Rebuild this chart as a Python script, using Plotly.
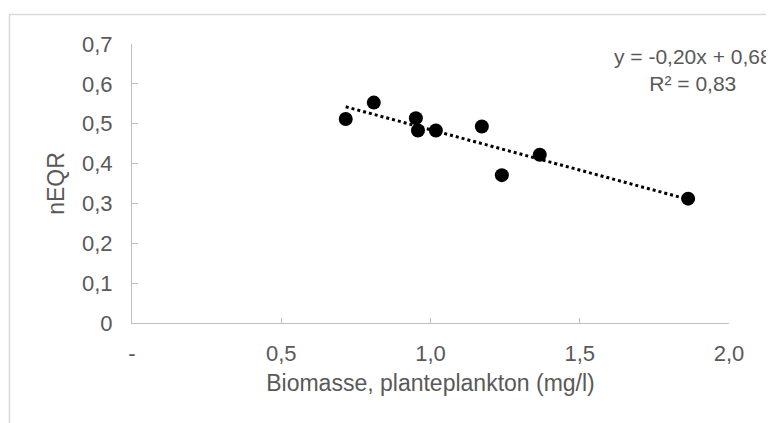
import numpy as np
import plotly.graph_objects as go

biomass = [0.716, 0.81, 0.951, 0.958, 1.018, 1.172, 1.366, 1.239, 1.863]
neqr = [0.512, 0.553, 0.514, 0.483, 0.483, 0.493, 0.422, 0.371, 0.312]

x_tickvals = [0, 0.5, 1.0, 1.5, 2.0]
x_ticktext = ["-", "0,5", "1,0", "1,5", "2,0"]
y_tickvals = [0, 0.1, 0.2, 0.3, 0.4, 0.5, 0.6, 0.7]
y_ticktext = ["0", "0,1", "0,2", "0,3", "0,4", "0,5", "0,6", "0,7"]

eq_text = "y = -0,20x + 0,68<br>R² = 0,83"

slope, intercept = np.polyfit(biomass, neqr, 1)
xs = [min(biomass), max(biomass)]
ys = [slope * v + intercept for v in xs]

GRAY = "#595959"
AXIS = "#bfbfbf"
FONT = "Liberation Sans, Arial, sans-serif"

# page has an 8px body offset; compensate in margins
L, R, T, B = 124, 53, 36, 108
PW = 774 - L - R
PH = 423 - T - B

fig = go.Figure()
fig.add_trace(go.Scatter(x=xs, y=ys, mode="lines",
                         line=dict(color="black", width=3, dash="dot"),
                         hoverinfo="skip", showlegend=False))
fig.add_trace(go.Scatter(x=biomass, y=neqr, mode="markers",
                         marker=dict(color="black", size=14),
                         showlegend=False))

fig.update_layout(
    width=774, height=423,
    margin=dict(l=L, r=R, t=T, b=B),
    paper_bgcolor="white", plot_bgcolor="white",
    font=dict(family=FONT, color=GRAY, size=22),
    xaxis=dict(range=[0, 2.0], tickvals=x_tickvals, ticktext=x_ticktext,
               showgrid=False, zeroline=False, showline=True, linecolor=AXIS,
               linewidth=1, ticks="inside", ticklen=5, tickcolor=AXIS,
               ticklabelstandoff=11,
               tickfont=dict(size=22, color=GRAY),
               title=dict(text="Biomasse, planteplankton (mg/l)",
                          font=dict(size=23, color=GRAY), standoff=9)),
    yaxis=dict(range=[0, 0.7], tickvals=y_tickvals, ticktext=y_ticktext,
               showgrid=False, zeroline=False, showline=True, linecolor=AXIS,
               linewidth=1, ticks="inside", ticklen=6, tickcolor=AXIS,
               ticklabelstandoff=14,
               tickfont=dict(size=22, color=GRAY),
               title=dict(text="nEQR", font=dict(size=23, color=GRAY), standoff=10)),
    shapes=[dict(type="rect", xref="paper", yref="paper",
                 x0=(1.5 - L) / PW, x1=1.3, y0=-1.0, y1=1 + (T - 6.5) / PH,
                 line=dict(color="#d9d9d9", width=1.5), layer="below")],
    annotations=[dict(text=eq_text, xref="paper", yref="paper",
                      x=(685 - L) / PW, y=(423 - B - 61.5) / PH,
                      showarrow=False, xanchor="center", yanchor="middle",
                      align="center", font=dict(size=21, color=GRAY))],
)

fig.write_html("out.html")
